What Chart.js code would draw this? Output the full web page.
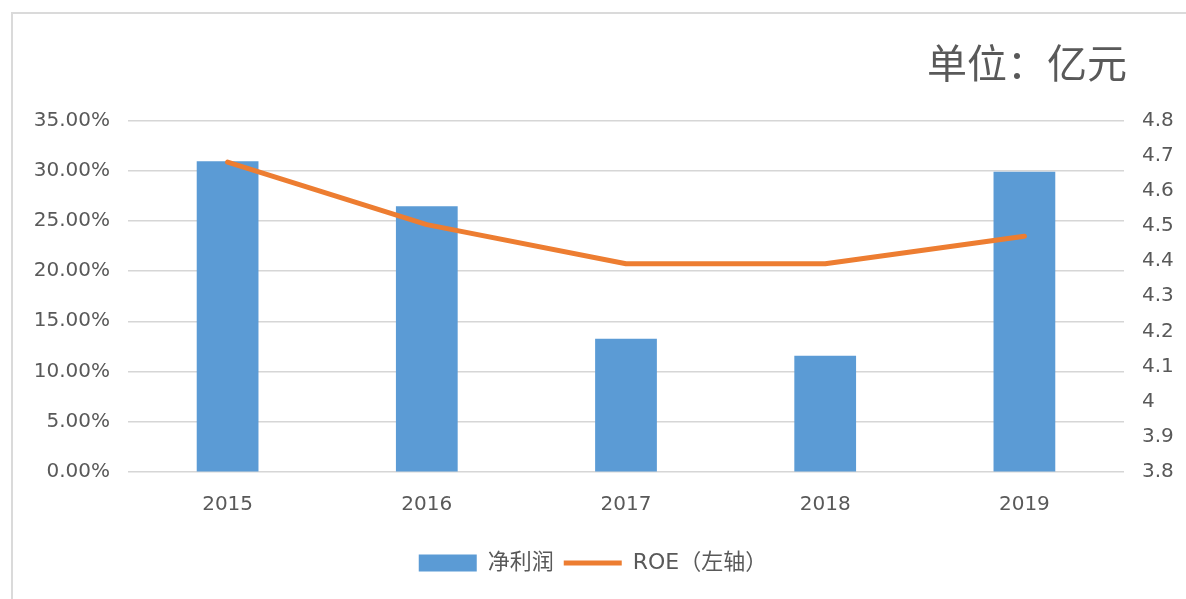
<!DOCTYPE html>
<html lang="zh-CN">

<head>
  <meta charset="UTF-8" />
  <title>净利润与ROE</title>
  <style>
    * {
      margin: 0;
      padding: 0;
    }

    body {
      width: 1186px;
      height: 599px;
      overflow: hidden;
      background: #fff;
      position: relative;
    }

    .frame {
      position: absolute;
      left: 11px;
      top: 12px;
      width: 1200px;
      height: 620px;
      border: 2px solid #dadada;
    }

    #myChart {
      position: absolute;
      left: 0;
      top: 0;
    }
  </style>
</head>

<body>
  <div class="frame"></div>
  <canvas id="myChart" width="1186" height="599"></canvas>
  <script src="https://cdn.jsdelivr.net/npm/chart.js@4/dist/chart.umd.min.js"></script>
  <script>
    const years = ["2015", "2016", "2017", "2018", "2019"];
    const netProfit = [4.685, 4.557, 4.179, 4.130, 4.655];
    const roe = [0.309, 0.2465, 0.2075, 0.2075, 0.235];
    const unitText = "单位：亿元";

    const textColor = "#595959";
    const tickFont = { family: "'DejaVu Sans', 'Noto Sans CJK SC'", size: 20 };

    // unit label above the plot, right aligned to the plot edge
    const unitLabel = {
      id: "unitLabel",
      afterDraw(chart) {
        const c = chart.ctx;
        c.save();
        c.font = "40px 'Noto Sans CJK SC'";
        c.fillStyle = textColor;
        c.textAlign = "right";
        c.textBaseline = "middle";
        c.fillText(unitText, chart.chartArea.right + 3, 63);
        c.restore();
      }
    };

    const data = {
      labels: years,
      datasets: [
        {
          type: "bar",
          label: "净利润",
          data: netProfit,
          yAxisID: "y1",
          backgroundColor: "#5b9bd5",
          borderWidth: 0,
          barPercentage: 0.31,
          categoryPercentage: 1,
          order: 2
        },
        {
          type: "line",
          label: "ROE（左轴）",
          data: roe,
          yAxisID: "y",
          borderColor: "#ed7d31",
          backgroundColor: "#ed7d31",
          borderWidth: 5,
          borderCapStyle: "round",
          borderJoinStyle: "round",
          pointRadius: 0,
          tension: 0,
          order: 1
        }
      ]
    };

    const options = {
      responsive: false,
      animation: false,
      layout: {
        padding: { top: 121, bottom: 15, left: 0, right: 0 }
      },
      plugins: {
        tooltip: { enabled: false },
        legend: {
          position: "bottom",
          labels: {
            usePointStyle: true,
            pointStyleWidth: 58,
            boxHeight: 17,
            padding: 10,
            color: textColor,
            font: { family: "'DejaVu Sans', 'Noto Sans CJK SC'", size: 22 },
            generateLabels: (chart) => {
              return chart.data.datasets.map((ds, i) => ({
                text: ds.label,
                fillStyle: ds.backgroundColor,
                strokeStyle: ds.type == "line" ? ds.borderColor : ds.backgroundColor,
                lineWidth: ds.type == "line" ? 5 : 0,
                pointStyle: ds.type == "line" ? "line" : "rect",
                fontColor: textColor,
                datasetIndex: i
              }));
            }
          }
        }
      },
      scales: {
        x: {
          grid: { display: false, drawTicks: false },
          border: { display: false },
          ticks: { color: textColor, font: tickFont, padding: 21 },
          afterFit: (scale) => { scale.height = 70.5; }
        },
        y: {
          position: "left",
          min: 0,
          max: 0.35,
          ticks: {
            stepSize: 0.05,
            color: textColor,
            font: tickFont,
            padding: 18,
            callback: (v) => (v * 100).toFixed(2) + "%"
          },
          grid: { color: "#d6d6d6", lineWidth: 1.5, drawTicks: false },
          border: { display: false },
          afterFit: (scale) => { scale.width = 128; }
        },
        y1: {
          position: "right",
          min: 3.8,
          max: 4.8,
          ticks: {
            stepSize: 0.1,
            color: textColor,
            font: tickFont,
            padding: 18,
            callback: (v) => String(Number(v.toFixed(1)))
          },
          grid: { display: false, drawTicks: false },
          border: { display: false },
          afterFit: (scale) => { scale.width = 62; }
        }
      }
    };

    const ctx = document.getElementById("myChart").getContext("2d");
    const myChart = new Chart(ctx, {
      data: data,
      options: options,
      plugins: [unitLabel]
    });
  </script>
</body>

</html>
